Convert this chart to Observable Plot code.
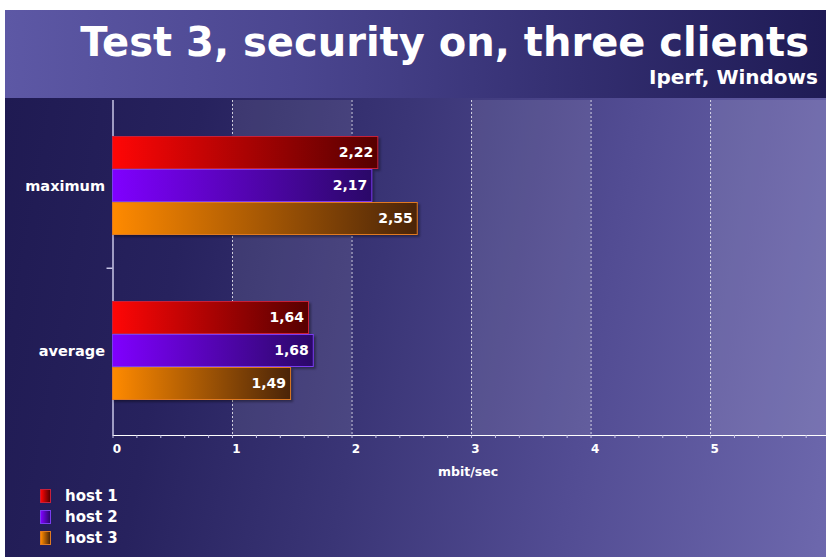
<!DOCTYPE html>
<html><head><meta charset="utf-8">
<script src="https://cdn.jsdelivr.net/npm/d3@7"></script>
<script src="https://cdn.jsdelivr.net/npm/@observablehq/plot@0.6"></script>
<style>
html,body{margin:0;padding:0;background:#fff;width:826px;height:558px;overflow:hidden;font-family:"DejaVu Sans",Verdana,sans-serif;}
#frame{position:absolute;left:5px;top:10px;width:821px;height:547px;overflow:hidden;}
#header{position:absolute;left:0;top:0;width:821px;height:88px;background:linear-gradient(to right,#5d58a5 0%,#4b4690 35%,#332e70 70%,#1f1b55 100%);color:#fff;}
#title{position:absolute;right:17px;top:12px;font-size:40px;font-weight:bold;line-height:1;margin:0;white-space:nowrap;}
#subtitle{position:absolute;right:8px;top:57px;font-size:20px;font-weight:bold;line-height:1;white-space:nowrap;}
#chart{position:absolute;left:0;top:88px;}
#xlabel{position:absolute;left:463px;top:461px;transform:translate(-50%,-50%);color:#fff;font-size:12.5px;font-weight:bold;white-space:nowrap;}
#legend{position:absolute;left:35px;top:475px;color:#fff;font-size:15px;font-weight:bold;}
.row{display:flex;align-items:center;height:21px;}
.sw{width:11px;height:14px;margin-right:14px;box-sizing:border-box;}
</style></head>
<body>
<div id="frame">
  <div id="header"><div id="title"></div><div id="subtitle"></div></div>
  <div id="chart"></div>
  <div id="xlabel"></div>
  <div id="legend"></div>
</div>
<script>
const titleText = "Test 3, security on, three clients";
const subtitleText = "Iperf, Windows";
const categories = ["maximum", "average"];
const hosts = ["host 1", "host 2", "host 3"];
const maximumValues = [2.22, 2.17, 2.55];
const averageValues = [1.64, 1.68, 1.49];
const xTickLabels = [0, 1, 2, 3, 4, 5];
const xLabel = "mbit/sec";

// styles
const gradStops = [["#ff0606", "#560000"], ["#8000ff", "#2a0868"], ["#ff8a00", "#4a2408"]];
const borderColors = ["#c8203a", "#7a3cf0", "#e07a22"];

document.getElementById("title").textContent = titleText;
document.getElementById("subtitle").textContent = subtitleText;
document.getElementById("xlabel").textContent = xLabel;

const seriesByCat = {maximum: maximumValues, average: averageValues};
const rows = [];
categories.forEach(c => hosts.forEach((h, i) => rows.push({cat: c, host: h, key: c + "|" + h, value: seriesByCat[c][i]})));
const gapKeys = ["gap|a", "gap|b"];
const yDomain = [...hosts.map(h => categories[0] + "|" + h), ...gapKeys, ...hosts.map(h => categories[1] + "|" + h)];
const minorTicks = d3.range(0, 30).map(i => i / 5);
const lightBands = xTickLabels.filter(v => v % 2 === 1);
const fmt = v => v.toFixed(2).replace(".", ",");
const plotH = 459, mTop = 2, mBottom = 122;
const halfStep = (plotH - mTop - mBottom) / (yDomain.length + 2) / 2;

const svg = Plot.plot({
  width: 821,
  height: plotH,
  marginLeft: 107.5,
  marginRight: 0,
  marginTop: mTop,
  marginBottom: mBottom,
  style: {background: "linear-gradient(100deg, #1f1a52 0%, #27225e 22%, #3a3576 45%, #524c93 70%, #6d68ad 100%)", color: "#fff", fontFamily: "DejaVu Sans, Verdana, sans-serif", fontWeight: "bold", fontSize: "12px"},
  x: {domain: [0, 5.97], ticks: minorTicks, tickFormat: d => Number.isInteger(d) ? d : "", tickSize: 3, tickPadding: 6, line: true, label: null},
  y: {domain: yDomain, paddingInner: 0, paddingOuter: 1, axis: null},
  marks: [
    Plot.rect(lightBands, {x1: d => d, x2: d => d + 1, fill: "#fff", fillOpacity: 0.09}),
    Plot.ruleX(xTickLabels.filter(v => v > 0), {stroke: "#fff", strokeOpacity: 0.75, strokeDasharray: "2,2"}),
    Plot.ruleX([0], {stroke: "#c8c6e6", strokeWidth: 1.5}),
    Plot.ruleY([gapKeys[1]], {x1: -0.05, x2: 0, dy: -halfStep, stroke: "#c8c6e6", strokeWidth: 1.5}),
    ...hosts.map((h, i) => Plot.barX(rows.filter(r => r.host === h), {x: "value", y: "key", fill: `url(#barGrad${i})`, stroke: borderColors[i], strokeWidth: 1, insetTop: 0.5, insetBottom: 0.5})),
    Plot.text(rows, {x: "value", y: "key", text: d => fmt(d.value), textAnchor: "end", dx: -5, fill: "#fff", fontSize: 14, fontWeight: "bold"}),
    Plot.text(categories, {x: 0, y: c => c + "|" + hosts[1], text: d => d, textAnchor: "end", dx: -8, fill: "#fff", fontSize: 14.5, fontWeight: "bold"})
  ]
});

const defs = d3.select(svg).insert("defs", ":first-child");
gradStops.forEach((g, i) => {
  const lg = defs.append("linearGradient").attr("id", "barGrad" + i).attr("x1", 0).attr("x2", 1).attr("y1", 0).attr("y2", 0);
  lg.append("stop").attr("offset", "0%").attr("stop-color", g[0]);
  lg.append("stop").attr("offset", "100%").attr("stop-color", g[1]);
});
d3.select(svg).selectAll("g[aria-label=bar]").style("filter", "drop-shadow(2px 2px 1px rgba(0,0,0,0.35))");
d3.select(svg).selectAll("g[aria-label^='x-axis'] line, g[aria-label^='x-axis'] path").attr("stroke", "#c8c6e6");
d3.select(svg).selectAll("g[aria-label^='x-axis'] text").attr("dx", 4);
document.getElementById("chart").appendChild(svg);

const legend = document.getElementById("legend");
hosts.forEach((h, i) => {
  const row = document.createElement("div");
  row.className = "row";
  const sw = document.createElement("div");
  sw.className = "sw";
  sw.style.background = `linear-gradient(to right, ${gradStops[i][0]}, ${gradStops[i][1]})`;
  sw.style.border = `1px solid ${borderColors[i]}`;
  const t = document.createElement("span");
  t.textContent = h;
  row.appendChild(sw); row.appendChild(t);
  legend.appendChild(row);
});
</script>
</body></html>
